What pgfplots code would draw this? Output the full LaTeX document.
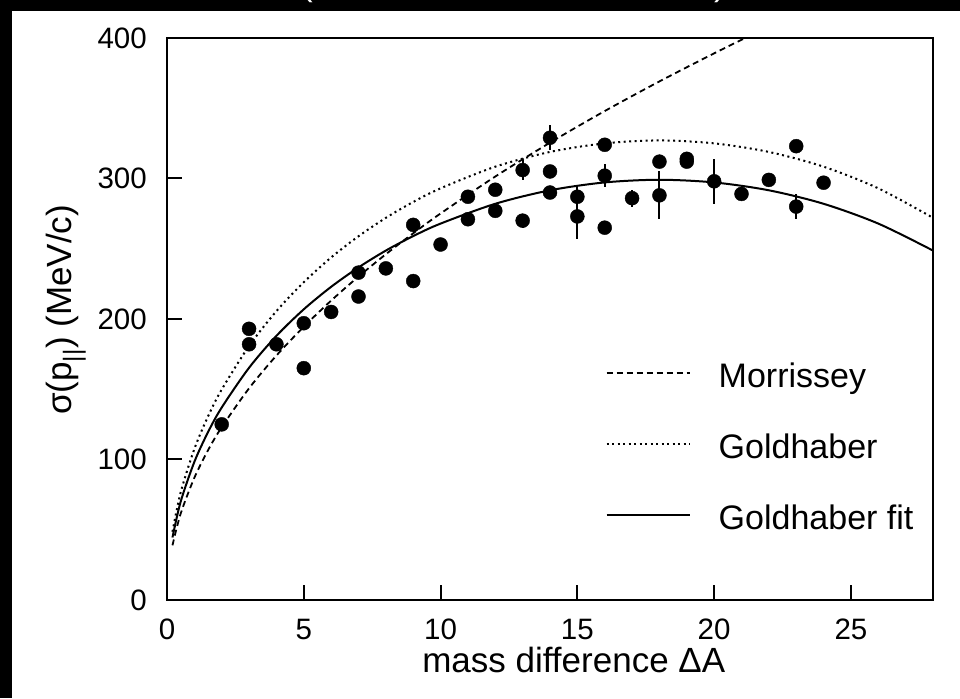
\documentclass[border=0pt]{standalone}
\usepackage{fontspec}
\setmainfont{Liberation Sans}
\usepackage{pgfplots}
\pgfplotsset{compat=1.18}
\usepackage{pgfplotstable}

\pgfplotstableread{
x y ey
2 125 0
3 193 0
3 182 0
4 182 0
5 197 3
5 165 0
6 205 0
7 216 0
7 233 0
8 236 0
9 227 0
9 267 0
10 253 0
11 271 0
11 287 0
12 277 0
12 292 0
13 270 5
13 306 7
14 290 0
14 305 0
14 329 9
15 287 7
15 273 16
16 324 0
16 302 8
16 265 0
17 286 6
18 312 0
18 288 17
19 314 0
19 312 0
20 298 16
21 289 0
22 299 0
23 323 0
23 280 9
24 297 0
}\datatable

\pgfplotstableread{
x y
0.2 38.9
0.5 61.5
1 87.0
1.5 106.6
2 123.0
3 150.7
4 174.0
5 194.5
6 213.1
7 230.2
8 246.1
9 261.0
10 275.1
12 301.4
14 325.5
16 348.0
18 369.1
20 389.1
21.14 400.0
}\morrissey

\pgfplotstableread{
x y
0.2 48.6
0.5 76.6
1 107.5
1.5 130.7
2 149.8
3 180.8
4 205.6
5 226.2
6 243.8
7 258.9
8 272.0
9 283.3
10 293.0
12 308.4
14 318.9
16 325.0
18 327.1
20 325.0
22 318.9
24 308.4
26 293.0
28 272.0
}\goldhaber

\pgfplotstableread{
x y
0.2 44.5
0.5 70.0
1 98.3
1.5 119.5
2 137.0
3 165.3
4 188.0
5 206.9
6 222.9
7 236.7
8 248.7
9 259.0
10 267.9
12 282.0
14 291.6
16 297.2
18 299.1
20 297.2
22 291.6
24 282.0
26 267.9
28 248.7
}\goldfit

\begin{document}
\begin{tikzpicture}
\useasboundingbox (0pt,0pt) rectangle (960pt,698pt);
\fill[black] (0pt,0pt) rectangle (960pt,698pt);
\fill[white] (12pt,0pt) rectangle (960pt,687pt);
\begin{scope}
\clip (0pt,687pt) rectangle (960pt,698pt);
\node[white, font=\fontsize{35}{40}\selectfont, anchor=base, inner sep=0pt] at (307pt,702pt) {(};
\node[white, font=\fontsize{35}{40}\selectfont, anchor=base, inner sep=0pt] at (720pt,702pt) {)};
\end{scope}
\begin{axis}[
  at={(167pt,98pt)}, anchor=south west,
  scale only axis, width=766pt, height=562pt,
  xmin=0, xmax=28, ymin=0, ymax=400,
  xtick={0,5,10,15,20,25}, ytick={0,100,200,300,400},
  tick align=inside, xtick pos=bottom, ytick pos=left,
  major tick length=15pt,
  axis line style={line width=2.5pt},
  every tick/.style={line width=2pt, black},
  /pgf/number format/assume math mode=true,
  tick label style={inner sep=0pt, font=\fontsize{29.5}{34}\selectfont},
  xticklabel style={anchor=north, yshift=-19pt},
  yticklabel style={anchor=east, xshift=-20pt},
  xlabel={mass difference ΔA},
  xlabel style={font=\fontsize{35}{40}\selectfont, at={(axis description cs:0.531,-0.129)}, anchor=base, inner sep=0pt},
  ylabel={σ(p\textsubscript{||}) (MeV/c)},
  ylabel style={font=\fontsize{35}{40}\selectfont, at={(axis description cs:-0.132,0.516)}, anchor=center, rotate=0, inner sep=0pt},
  legend cell align=left,
  legend image code/.code={\draw[#1] (0pt,6.5pt) -- (83pt,6.5pt);},
  legend style={draw=none, fill=none, inner sep=0pt, at={(axis cs:16.03,169)}, anchor=north west,
    font=\fontsize{34}{40}\selectfont, row sep=38pt,
    nodes={inner sep=0pt, text height=25pt, text depth=8pt},
    /tikz/every odd column/.append style={column sep=28pt}},
]
\addplot[black, line width=1.8pt, dash pattern=on 6pt off 4pt, smooth] table[x=x,y=y] {\morrissey};
\addlegendentry{Morrissey}
\addplot[black, line width=2pt, dash pattern=on 2pt off 3.5pt, smooth] table[x=x,y=y] {\goldhaber};
\addlegendentry{Goldhaber}
\addplot[black, line width=2pt, smooth] table[x=x,y=y] {\goldfit};
\addlegendentry{Goldhaber fit}
\addplot[black, only marks, mark=*, mark size=7pt, forget plot,
  error bars/.cd, y dir=both, y explicit, error mark=none,
  error bar style={line width=2pt, black}]
  table[x=x, y=y, y error=ey] {\datatable};
\end{axis}
\end{tikzpicture}
\end{document}
